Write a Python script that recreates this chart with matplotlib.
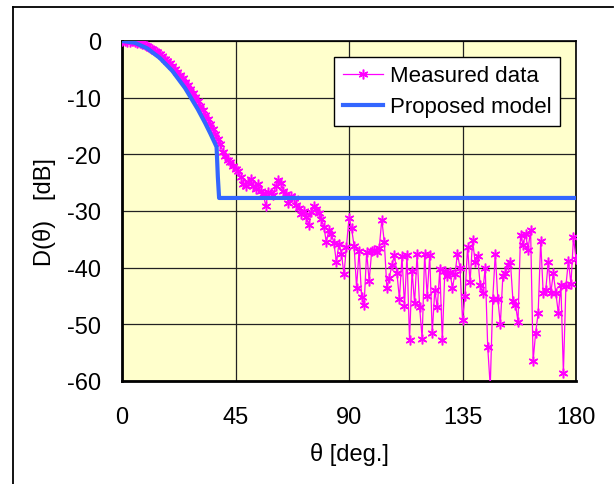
import matplotlib
matplotlib.use('Agg')
import matplotlib.pyplot as plt
from matplotlib.lines import Line2D

plt.rcParams['font.family'] = ['Liberation Sans', 'DejaVu Sans']
plt.rcParams['axes.unicode_minus'] = False

# measured directivity, 1 deg steps from 0 to 180
theta_meas = list(range(0, 181))
d_meas = [
    0.0, 0.0, -0.1, -0.1, 0.0, -0.2, -0.3, -0.4, -0.5, -0.7,
    -0.9, -1.2, -1.4, -1.7, -2.0, -2.3, -2.7, -3.1, -3.5, -3.9,
    -4.4, -4.9, -5.4, -6.0, -6.6, -7.2, -7.8, -8.5, -9.2, -9.9,
    -10.6, -11.4, -12.2, -13.0, -13.8, -14.6, -15.5, -16.4, -17.3, -18.2,
    -19.6, -20.3, -21.0, -21.4, -22.0, -22.6, -22.9, -24.0, -25.3, -25.6,
    -24.8, -24.4, -25.6, -26.2, -25.3, -26.5, -27.0, -29.1, -26.7, -26.8,
    -27.2, -25.5, -24.6, -25.0, -26.4, -27.0, -28.6, -27.4, -27.7, -28.9,
    -29.4, -30.5, -30.0, -31.0, -32.4, -30.2, -29.2, -29.6, -30.3, -31.4,
    -32.8, -35.4, -33.4, -34.0, -35.6, -39.0, -35.8, -37.5, -41.2, -36.3,
    -31.2, -33.0, -36.1, -43.5, -37.0, -45.2, -46.5, -37.2, -42.4, -37.0,
    -36.8, -37.3, -36.5, -31.5, -35.5, -43.5, -41.8, -39.5, -37.8, -41.0,
    -45.5, -38.0, -46.7, -37.8, -52.8, -40.5, -46.3, -37.6, -47.0, -52.5,
    -37.5, -45.0, -37.8, -51.6, -44.0, -47.0, -40.3, -52.8, -40.5, -41.5,
    -40.8, -43.5, -41.2, -37.5, -40.0, -49.2, -45.0, -36.3, -42.5, -35.2,
    -39.0, -38.0, -43.0, -44.5, -40.0, -54.0, -61.0, -45.5, -37.5, -45.5,
    -50.0, -41.5, -41.0, -39.5, -39.0, -45.8, -46.5, -49.5, -34.2, -36.0,
    -34.0, -36.8, -33.3, -56.4, -51.5, -48.0, -35.3, -44.5, -44.0, -39.0,
    -44.5, -41.0, -44.5, -48.0, -43.0, -58.6, -43.2, -38.8, -42.9, -34.6,
    -38.5,
]

# proposed model
theta_model = [0, 5, 10, 15, 20, 25, 30, 33, 35, 37, 37.5, 38, 38.5, 180]
d_model = [0.0, -0.3, -1.3, -3.0, -5.3, -8.3, -12.0, -14.5, -16.3, -18.2,
           -18.7, -24.0, -27.7, -27.7]

fig = plt.figure(figsize=(6.14, 4.85), dpi=100)
ax = fig.add_axes([122/614, 1 - 382/485, 454/614, 340/485])
ax.set_facecolor('#FFFFCC')

ax.plot(theta_meas, d_meas, color='#FF00FF', lw=0.9, marker=(6, 2, 0),
        markersize=7, markeredgewidth=1.1, label='Measured data', zorder=3)
ax.plot(theta_model, d_model, color='#3366FF', lw=3, label='Proposed model',
        zorder=4, solid_joinstyle='round')

ax.set_xlim(0, 180)
ax.set_ylim(-60, 0)
ax.set_xticks([0, 45, 90, 135, 180])
ax.set_yticks([0, -10, -20, -30, -40, -50, -60])
ax.grid(True, color='#222222', lw=0.9)
ax.set_axisbelow(True)
ax.tick_params(length=0, labelsize=17)
ax.tick_params(axis='x', pad=18)
ax.tick_params(axis='y', pad=15)

for s in ['left', 'bottom']:
    ax.spines[s].set_linewidth(2)
for s in ['top', 'right']:
    ax.spines[s].set_linewidth(1.2)

ax.set_xlabel('θ [deg.]', fontsize=17, labelpad=10)
ax.set_ylabel('D(θ)   [dB]', fontsize=17, labelpad=8)

leg = ax.legend(loc='upper right', fontsize=16, frameon=True, fancybox=False,
                edgecolor='black', framealpha=1, handlelength=1.8,
                borderaxespad=0.7, handletextpad=0.3, labelspacing=0.45,
                borderpad=0.4)
leg.get_frame().set_linewidth(1.0)

# outer chart border (left and top edges visible)
x0 = 13 / 614
y0 = 1 - 8 / 485
fig.add_artist(Line2D([x0, x0], [0.0, y0], transform=fig.transFigure,
                      color='black', lw=1.3))
fig.add_artist(Line2D([x0, 0.3, 0.6, 0.999], [y0, y0, y0, y0],
                      transform=fig.transFigure, color='black', lw=1.3))

fig.savefig('out.png', dpi=100)
